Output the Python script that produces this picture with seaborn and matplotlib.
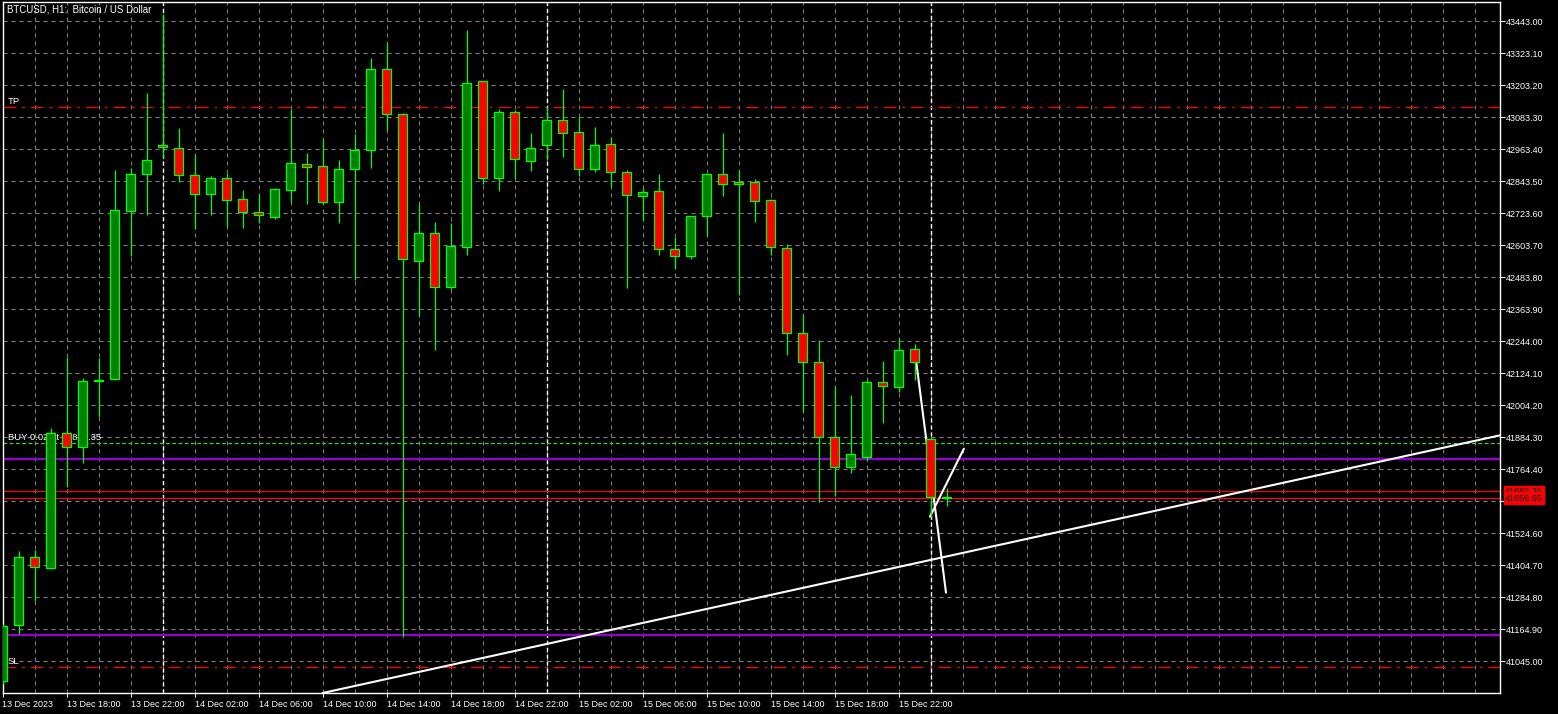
import numpy as np
import pandas as pd
import seaborn as sns
import matplotlib
matplotlib.use("Agg")
import matplotlib.pyplot as plt
import matplotlib.dates as mdates

# hourly BTCUSD bars, first bar 13 Dec 2023 14:00
START = "2023-12-13 14:00"
OPEN = [40970, 41180, 41435, 41393, 41901, 41847, 42096, 42101, 42733, 42870,
        42978, 42967, 42866, 42795, 42855, 42776, 42728, 42711, 42812, 42908,
        42900, 42765, 42888, 42960, 43263, 43095, 42546, 42649, 42446, 42599,
        43218, 42855, 43102, 42918, 42981, 43072, 43027, 42888, 42982, 42877,
        42790, 42806, 42589, 42565, 42715, 42870, 42840, 42840, 42772, 42592,
        42274, 42165, 41884, 41774, 41809, 42090, 42074, 42215, 41877, 41660]
HIGH = [41185, 41458, 41462, 41918, 42186, 42105, 42182, 42886, 42895, 43173,
        43470, 43043, 42942, 42864, 42875, 42811, 42796, 42817, 43114, 42950,
        43002, 42923, 43020, 43304, 43361, 43098, 42758, 42691, 42687, 43410,
        43218, 43114, 43111, 43023, 43121, 43189, 43086, 43047, 43011, 42886,
        42817, 42871, 42636, 42712, 42872, 43023, 42885, 42851, 42776, 42607,
        42346, 42249, 42077, 42043, 42099, 42170, 42255, 42234, 41884, 41693]
LOW = [40960, 41147, 41272, 41390, 41698, 41789, 41961, 42098, 42564, 42717,
       42936, 42842, 42665, 42717, 42673, 42669, 42688, 42703, 42766, 42760,
       42760, 42688, 42474, 42892, 43036, 41137, 42339, 42211, 42440, 42569,
       42832, 42808, 42852, 42883, 42923, 42936, 42865, 42880, 42823, 42443,
       42696, 42566, 42515, 42552, 42639, 42790, 42417, 42692, 42569, 42194,
       41978, 41641, 41664, 41749, 41797, 41939, 42054, 42099, 41587, 41627]
CLOSE = [41177, 41435, 41397, 41901, 41847, 42096, 42100, 42736, 42870, 42922,
         42971, 42866, 42795, 42855, 42775, 42727, 42716, 42814, 42911, 42898,
         42765, 42888, 42960, 43263, 43095, 42551, 42649, 42446, 42600, 43211,
         42855, 43102, 42926, 42967, 43072, 43023, 42888, 42978, 42877, 42791,
         42802, 42590, 42565, 42712, 42870, 42832, 42832, 42769, 42596, 42274,
         42165, 41884, 41772, 41821, 42090, 42075, 42211, 42168, 41662, 41656.65]

PRICE_TICKS = [43443.00, 43323.10, 43203.20, 43083.30, 42963.40, 42843.50,
               42723.60, 42603.70, 42483.80, 42363.90, 42244.00, 42124.10,
               42004.20, 41884.30, 41764.40, 41644.50, 41524.60, 41404.70,
               41284.80, 41164.90, 41045.00]
TIME_LABELS = ["13 Dec 2023", "13 Dec 18:00", "13 Dec 22:00", "14 Dec 02:00",
               "14 Dec 06:00", "14 Dec 10:00", "14 Dec 14:00", "14 Dec 18:00",
               "14 Dec 22:00", "15 Dec 02:00", "15 Dec 06:00", "15 Dec 10:00",
               "15 Dec 14:00", "15 Dec 18:00", "15 Dec 22:00"]
DAY_BREAKS = ["2023-12-14 00:00", "2023-12-15 00:00", "2023-12-16 00:00"]

TP, SL, BUY = 43120.8, 41022.4, 41861.35
BUY_TEXT = "BUY 0.02 at 41861.35"
LEVELS = [41804.0, 41144.6]
ASK, BID = 41682.35, 41656.65

# trend lines drawn on the chart: (time, price) pairs
TREND_T = ["2023-12-14 10:00", "2023-12-17 12:00"]
TREND_P = [40926.0, 41897.0]
DROP_T = ["2023-12-15 23:06", "2023-12-16 00:58"]
DROP_P = [42170.0, 41302.0]
BOUNCE_T = ["2023-12-15 23:58", "2023-12-16 02:05"]
BOUNCE_P = [41587.0, 41841.5]

sns.set_style("dark", {"axes.facecolor": "black", "figure.facecolor": "black",
                       "axes.edgecolor": "white", "grid.color": "#808080"})
plt.rcParams["font.family"] = ["Liberation Sans", "DejaVu Sans"]

times = pd.date_range(START, periods=len(OPEN), freq="h")
x = mdates.date2num(times)
hour = 1 / 24

o = np.array(OPEN)
c = np.array(CLOSE)
bull = c >= o

fig = plt.figure(figsize=(15.58, 7.14), dpi=100)
ax = fig.add_axes([2.5 / 1558, (714 - 693.3) / 714, 1497.5 / 1558, 691 / 714])
ax.set_facecolor("black")

ax.set_xlim(x[0], x[0] + 93.59 * hour)
ax.set_ylim(40925.0, 43514.2)

# grid
ax.set_yticks(PRICE_TICKS)
ax.set_yticklabels([f"{v:.2f}" for v in PRICE_TICKS])
ax.set_xticks(x[::4])
ax.set_xticklabels(TIME_LABELS, ha="left")
ax.xaxis.set_minor_locator(mdates.HourLocator(byhour=range(0, 24, 2)))
ax.grid(True, which="both", axis="x", color="#808080", lw=0.72, ls=(0, (4, 4)))
ax.grid(True, which="major", axis="y", color="#808080", lw=0.72, ls=(0, (4, 4)))
ax.set_axisbelow(True)
for d in DAY_BREAKS:
    ax.axvline(mdates.date2num(pd.Timestamp(d)), color="white", lw=1.0,
               ls=(0, (3, 2)), zorder=1)

ax.yaxis.tick_right()
ax.tick_params(axis="y", which="major", right=True, left=False, length=3.6,
               width=0.72, color="white", labelcolor="white", labelsize=6.5, pad=0.8)
ax.tick_params(axis="x", which="major", bottom=True, length=3, width=0.72,
               color="white", labelcolor="white", labelsize=6.5, pad=2)
ax.tick_params(axis="x", which="minor", length=0)
for s in ax.spines.values():
    s.set_color("white")
    s.set_linewidth(1.0)
    s.set_visible(True)

# order levels
ax.axhline(TP, color="#ff0000", lw=0.9, ls=(0, (10, 5, 2, 5)), zorder=2)
ax.axhline(SL, color="#ff0000", lw=0.9, ls=(0, (10, 5, 2, 5)), zorder=2)
ax.axhline(BUY, color="#3fcf3f", lw=0.9, ls=(0, (3, 2)), zorder=2)
for lv in LEVELS:
    ax.axhline(lv, color="#9400d3", lw=1.6, zorder=2)
ax.axhline(ASK, color="#ff0000", lw=0.9, zorder=2)
ax.axhline(BID, color="#ff0000", lw=0.9, zorder=2)

lbl = dict(color="white", fontsize=6.8, xycoords=("axes fraction", "data"),
           textcoords="offset pixels", va="bottom", ha="left", zorder=2)
ax.annotate("TP", xy=(0, TP), xytext=(5, 1), **lbl)
ax.annotate("SL", xy=(0, SL), xytext=(5, 1), **lbl)
ax.annotate(BUY_TEXT, xy=(0, BUY), xytext=(5, 1), **lbl)

# trend lines
for tt, pp in [(TREND_T, TREND_P), (DROP_T, DROP_P), (BOUNCE_T, BOUNCE_P)]:
    tx = mdates.date2num(pd.to_datetime(tt))
    sns.lineplot(x=tx, y=pp, ax=ax, color="white", lw=1.5, estimator=None,
                 sort=False, zorder=4)

# candles
ax.vlines(x, LOW, HIGH, color="#00ff00", lw=0.9, zorder=5)
ax.bar(x, np.abs(c - o), bottom=np.minimum(o, c), width=0.6 * hour,
       color=np.where(bull, "#008000", "#ff0000"), edgecolor="#00ff00",
       linewidth=0.9, zorder=6)

# bid / ask price tags (the lower tag sits over the upper one, as in the terminal)
tag = dict(xycoords=("axes fraction", "data"), textcoords="offset pixels",
           va="center", ha="left", fontsize=6.5, color="black", zorder=10,
           annotation_clip=False,
           bbox=dict(boxstyle="square,pad=0.12", fc="#ff0000", ec="#ff0000"))
ax.annotate(f"{ASK:.2f}", xy=(1, ASK), xytext=(5, 0), **tag)
ax.annotate(f"{BID:.2f}", xy=(1, BID), xytext=(5, 0), **tag)

ax.set_xlabel("")
ax.set_ylabel("")
fig.text(6.7 / 1558, 1 - 9.5 / 714, "BTCUSD, H1:  Bitcoin / US Dollar",
         color="white", fontsize=7, va="center", ha="left")

fig.savefig("out.png", dpi=100, facecolor="black")
